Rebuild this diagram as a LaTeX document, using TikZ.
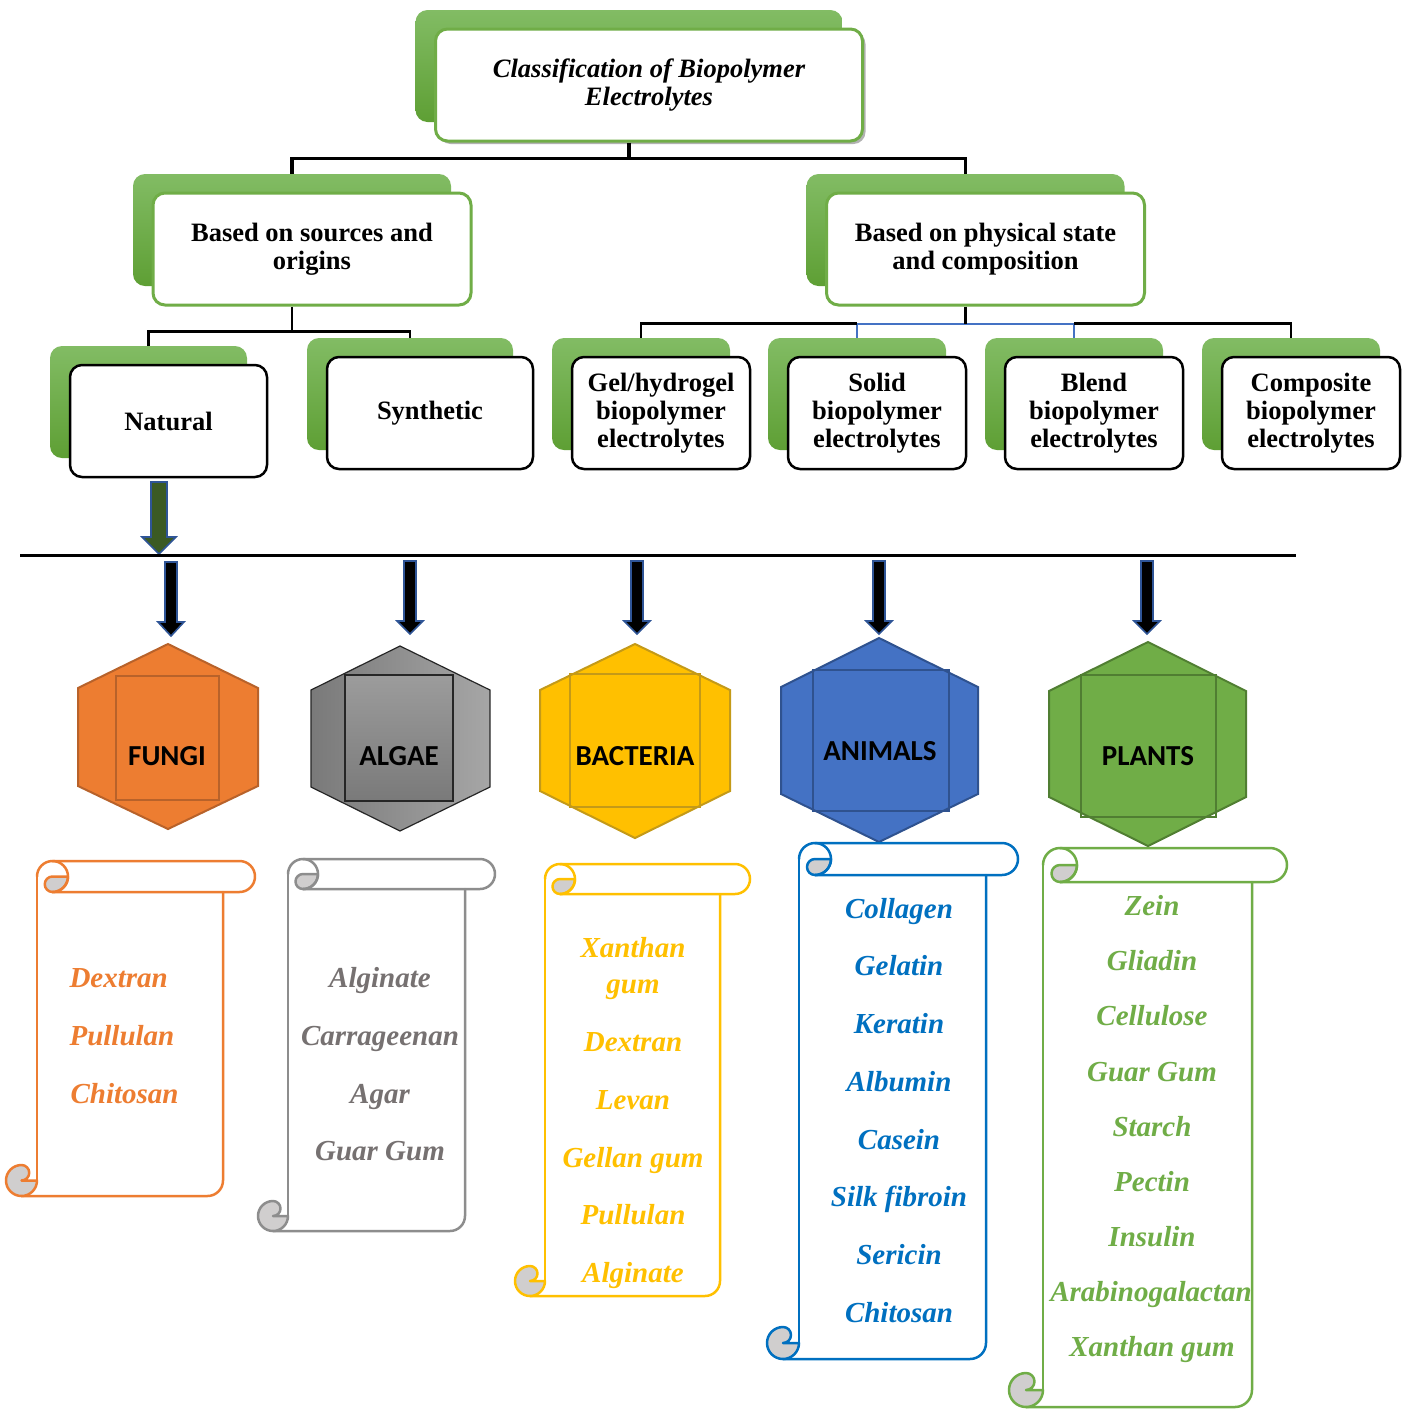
\documentclass[tikz,border=0pt]{standalone}
\usepackage{fontspec}
\setmainfont{Liberation Serif}
\newfontfamily\calibfont{Carlito}
\usetikzlibrary{shadows,calc}
\definecolor{gtop}{HTML}{82BC64}
\definecolor{gbot}{HTML}{5E9F34}
\definecolor{ggreen}{HTML}{70AD47}
\definecolor{orng}{HTML}{ED7D31}
\definecolor{orngd}{HTML}{B8622A}
\definecolor{ylw}{HTML}{FFC000}
\definecolor{ylwd}{HTML}{C49A18}
\definecolor{blu}{HTML}{4472C4}
\definecolor{blud}{HTML}{2F528F}
\definecolor{sblue}{HTML}{0070C0}
\definecolor{grn}{HTML}{70AD47}
\definecolor{grnd}{HTML}{507E32}
\definecolor{gry}{HTML}{808080}
\definecolor{grytxt}{HTML}{767171}
\definecolor{curl}{HTML}{D0CECE}
\definecolor{arrblue}{HTML}{2F5597}
\definecolor{natgreen}{HTML}{3B5A24}
\definecolor{connblue}{HTML}{4472C4}
\newcommand\boxfont{\fontsize{26.5}{28}\selectfont\bfseries}
\newcommand\itemfont{\fontsize{29}{30}\selectfont\bfseries\itshape}
\newcommand\hexfont{\calibfont\fontsize{29}{30}\selectfont\bfseries}
\newcommand\gbox[8]{%
 \node[backbox, minimum width=#4pt, minimum height=#5pt] (#1b) at (#2,#3) {};
 \node[frontbox, draw=#6, line width=#7pt, minimum width=#4pt, minimum height=#5pt] (#1) at (#2+20,#3+19) {#8};}
\newcommand\barrow[7]{%
 \filldraw[fill=#7, draw=arrblue, line width=1.6pt, line join=miter] (#1-#5,#2) -- (#1+#5,#2) -- (#1+#5,#3) -- (#1+#6,#3) -- (#1,#4) -- (#1-#6,#3) -- (#1-#5,#3) -- cycle;}
\newcommand\hexshape[8]{%
 \path[#8] (#1,#2) -- (#5,#6) -- (#5,#7) -- (#1,#3) -- (#4,#7) -- (#4,#6) -- cycle;}
\newcommand\scrollbox[7]{%
 \pgfmathsetmacro\scL{#1}\pgfmathsetmacro\scR{#2}\pgfmathsetmacro\scT{#3}%
 \pgfmathsetmacro\scP{#4}\pgfmathsetmacro\scB{#5}\pgfmathsetmacro\scr{#6}\pgfmathsetmacro\scrh{#6/2}%
 \begin{scope}[draw=#7, line width=2.5pt, line cap=round, line join=round]
  \draw (\scL,\scT+\scr) -- (\scL,\scB-\scr);
  \draw (\scL-\scr,\scB) -- (\scR-\scr,\scB) arc[start angle=-90,end angle=0,radius=\scr*1pt] -- (\scR,\scT+2*\scr);
  \draw (\scL+\scr,\scT) -- (\scP-\scr,\scT) arc[start angle=90,end angle=-90,radius=\scr*1pt] -- (\scL+\scr,\scT+2*\scr);
  \filldraw[fill=curl] (\scL+\scr,\scT+\scr) -- (\scL+2*\scr,\scT+\scr) arc[start angle=0,end angle=-90,radius=\scr*1pt] arc[start angle=-90,end angle=-270,radius=\scrh*1pt] -- cycle;
  \draw (\scL,\scT+\scr) arc[start angle=180,end angle=-90,radius=\scr*1pt];
  \filldraw[fill=curl] (\scL-\scr,\scB-2*\scr) arc[start angle=90,end angle=360,radius=\scr*1pt] -- (\scL-\scr,\scB-\scr) arc[start angle=-90,end angle=90,radius=\scrh*1pt] -- cycle;
 \end{scope}}
\begin{document}
\begin{tikzpicture}[x=1pt,y=-1pt,
  backbox/.style={rounded corners=12pt, top color=gtop, bottom color=gbot, inner sep=0pt},
  frontbox/.style={rounded corners=12pt, fill=white, inner sep=2pt, align=center, font=\boxfont},
  conn/.style={line width=3.5pt},
  connb/.style={line width=2.5pt},
  item/.style={font=\itemfont, anchor=base},
  hexlabel/.style={font=\hexfont, text=black}]
\fill[white] (0,0) rectangle (1408,1409);
\useasboundingbox (0,0) rectangle (1408,1409);

% top box
\node[backbox, minimum width=427pt, minimum height=112pt] (tb) at (629,66) {};
\node[frontbox, draw=ggreen, line width=3pt, minimum width=427pt, minimum height=112pt,
      drop shadow={shadow xshift=3pt, shadow yshift=-3pt, opacity=0.3, fill=black}] (t) at (649,85)
      {\itshape Classification of Biopolymer\\\itshape Electrolytes};

% second level
\gbox{ls}{292}{230}{318}{112}{ggreen}{3}{Based on sources and\\origins}
\gbox{rs}{965.5}{230}{318}{112}{ggreen}{3}{Based on physical state\\and composition}

% third level
\gbox{nat}{148.5}{402}{197}{112}{black}{2.5}{Natural}
\gbox{syn}{410}{394}{206}{112}{black}{2.5}{Synthetic}
\gbox{gel}{641}{394}{178}{112}{black}{2.5}{Gel/hydrogel\\biopolymer\\electrolytes}
\gbox{sol}{857}{394}{178}{112}{black}{2.5}{Solid\\biopolymer\\electrolytes}
\gbox{ble}{1074}{394}{178}{112}{black}{2.5}{Blend\\biopolymer\\electrolytes}
\gbox{com}{1291}{394}{178}{112}{black}{2.5}{Composite\\biopolymer\\electrolytes}

% connectors
\draw[conn] (tb.south |- t.south) -- ++(0,16) coordinate (j1);
\draw[conn] (lsb.north) |- (j1) -| (rsb.north);
\draw[connb] (lsb.south |- ls.south) -- ++(0,25) coordinate (j2);
\draw[connb] (natb.north) |- (j2) -| (synb.north);
\coordinate (j3) at ($(rsb.south |- rs.south)+(0,17)$);
\draw[line width=2pt, draw=connblue] (solb.north) |- (j3) -| (bleb.north);
\draw[connb] (gelb.north) |- (solb.north |- j3);
\draw[connb] (comb.north) |- (bleb.north |- j3);
\draw[connb] (rsb.south |- rs.south) -- (j3);

% natural arrow and line
\barrow{159}{482}{537}{554}{8}{17}{natgreen}
\coordinate (hl1) at (20,555);
\coordinate (hl2) at (1296,555);
\draw[line width=3pt] (hl1) -- (hl2);

% black arrows
\barrow{171}{562}{622}{636}{6}{13}{black}
\barrow{410}{561}{621}{634}{6}{13}{black}
\barrow{637}{561}{621}{634}{6}{13}{black}
\barrow{879}{561}{621}{634}{6}{13}{black}
\barrow{1147}{561}{621}{634}{6}{13}{black}

% hexagons
\hexshape{168}{644}{829}{78}{258}{688}{786}{fill=orng, draw=orngd, line width=2pt}
\draw[draw=orngd, line width=2pt] (116,676) rectangle (219,800);
\node[hexlabel] (fungi) at (167,756) {FUNGI};

\hexshape{400}{646}{831}{311}{490}{690}{787}{left color=gry!95!black, right color=gry!70!white, draw=black!85, line width=1.2pt}
\draw[top color=gry!78!white, bottom color=gry!95!black, draw=black!85, line width=1.5pt] (345,675) rectangle (453,801);
\node[hexlabel] (algae) at (399,756) {ALGAE};

\hexshape{635}{644}{838}{540}{730}{690}{791}{fill=ylw, draw=ylwd, line width=2pt}
\draw[draw=ylwd, line width=2pt] (570,674) rectangle (700,807);
\node[hexlabel] (bact) at (635,756) {BACTERIA};

\hexshape{879}{638}{842}{781}{978}{687}{794}{fill=blu, draw=blud, line width=2pt}
\draw[draw=blud, line width=2pt] (813,670) rectangle (949,811);
\node[hexlabel] (anim) at (880,751) {ANIMALS};

\hexshape{1148}{642}{846}{1049}{1246}{691}{797}{fill=grn, draw=grnd, line width=2pt}
\draw[draw=grnd, line width=2pt] (1081,675) rectangle (1216,817);
\node[hexlabel] (plant) at (1148,756) {PLANTS};

% scrolls
\scrollbox{37}{223}{861}{255}{1196}{15.5}{orng}
\scrollbox{288}{465}{859}{495}{1231}{15}{gry!90!white}
\scrollbox{545}{720}{864}{750}{1296}{15}{ylw}
\scrollbox{799}{986}{843}{1018}{1359}{16}{sblue}
\scrollbox{1043}{1252}{848}{1287}{1407}{17}{grn}

% fungi items
\node[item, anchor=base west, text=orng] (f1) at (66,987) {Dextran};
\node[item, anchor=base west, text=orng] (f2) at (66,1045) {Pullulan};
\node[item, anchor=base west, text=orng] (f3) at (67,1103) {Chitosan};

% algae items
\node[item, text=grytxt] (a1) at (380,987) {Alginate};
\node[item, text=grytxt] (a2) at (380,1045) {Carrageenan};
\node[item, text=grytxt] (a3) at (380,1103) {Agar};
\node[item, text=grytxt] (a4) at (380,1160) {Guar Gum};

% bacteria items
\node[item, text=ylw] (b1) at (633,957) {Xanthan};
\node[item, text=ylw] (b1b) at (633,993) {gum};
\node[item, text=ylw] (b2) at (633,1051) {Dextran};
\node[item, text=ylw] (b3) at (633,1109) {Levan};
\node[item, text=ylw] (b4) at (633,1167) {Gellan gum};
\node[item, text=ylw] (b5) at (633,1224) {Pullulan};
\node[item, text=ylw] (b6) at (633,1282) {Alginate};

% animal items
\node[item, text=sblue] (n1) at (899,918) {Collagen};
\node[item, text=sblue] (n2) at (899,975) {Gelatin};
\node[item, text=sblue] (n3) at (899,1033) {Keratin};
\node[item, text=sblue] (n4) at (899,1091) {Albumin};
\node[item, text=sblue] (n5) at (899,1149) {Casein};
\node[item, text=sblue] (n6) at (899,1206) {Silk fibroin};
\node[item, text=sblue] (n7) at (899,1264) {Sericin};
\node[item, text=sblue] (n8) at (899,1322) {Chitosan};

% plant items
\node[item, text=grn] (p1) at (1152,915) {Zein};
\node[item, text=grn] (p2) at (1152,970) {Gliadin};
\node[item, text=grn] (p3) at (1152,1025) {Cellulose};
\node[item, text=grn] (p4) at (1152,1081) {Guar Gum};
\node[item, text=grn] (p5) at (1152,1136) {Starch};
\node[item, text=grn] (p6) at (1152,1191) {Pectin};
\node[item, text=grn] (p7) at (1152,1246) {Insulin};
\node[item, text=grn] (p8) at (1151,1301) {Arabinogalactan};
\node[item, text=grn] (p9) at (1152,1356) {Xanthan gum};
\end{tikzpicture}
\end{document}
